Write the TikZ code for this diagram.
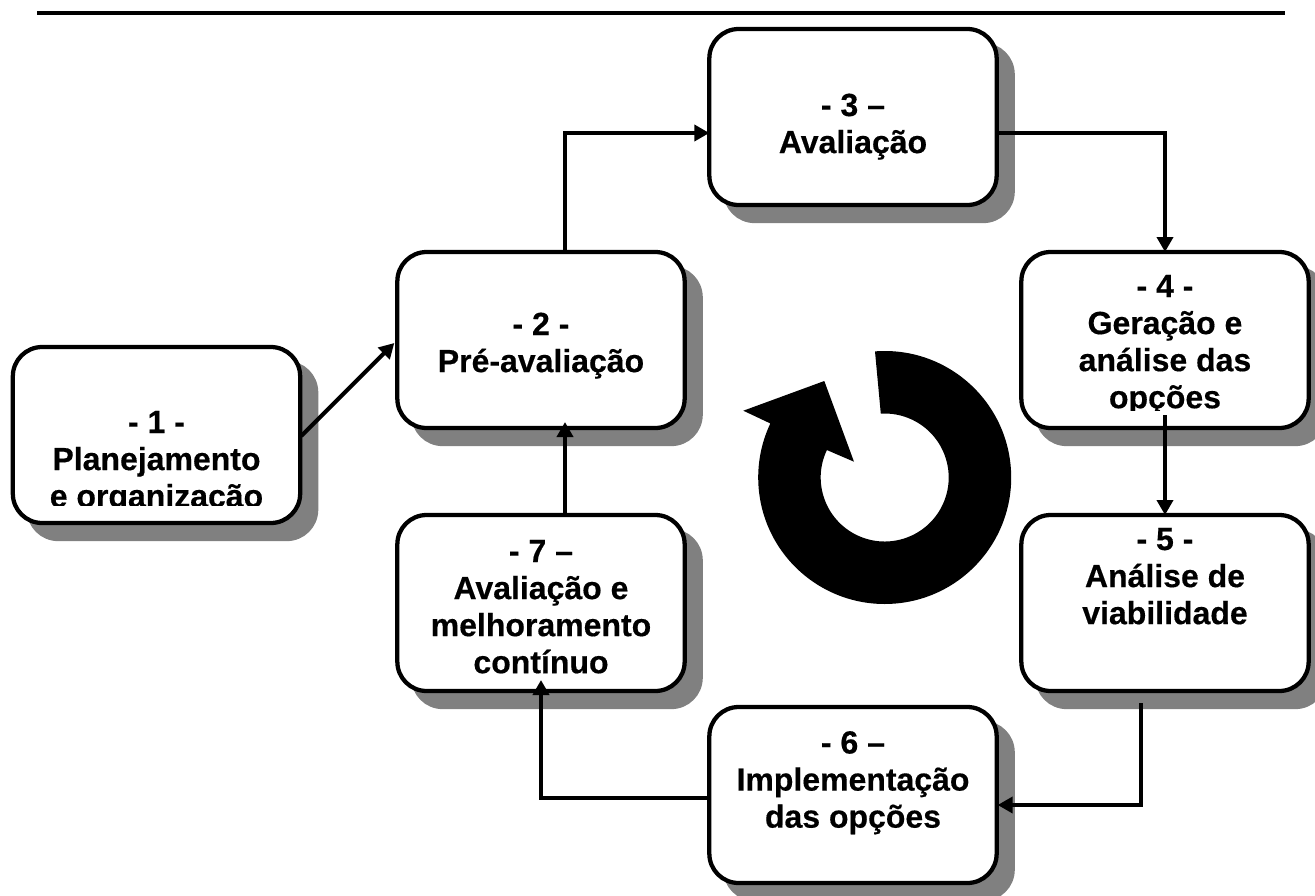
\documentclass[tikz,border=0pt]{standalone}
\usepackage{fontspec}
\setmainfont[BoldFeatures={FakeBold=0.4}]{Liberation Sans}
\usetikzlibrary{arrows.meta,calc,shadows}
\definecolor{shadowgray}{HTML}{808080}
\newcommand{\firstline}{\rule{0pt}{18pt}}
\tikzset{
  stepbox/.style={rectangle,rounded corners=22pt,draw=black,line width=3.2pt,fill=white,outer sep=0pt,inner sep=0pt,
    minimum width=215.5pt,minimum height=132pt,
    copy shadow={shadow xshift=12pt,shadow yshift=-12pt,draw=shadowgray,fill=shadowgray}},
  steptext/.style={anchor=north,inner sep=0pt,outer sep=0pt,align=center,text=black,
    font=\fontsize{24pt}{27.8pt}\selectfont\bfseries},
  conn/.style={draw=black,line width=3pt,-{Triangle[length=11.25pt,width=12pt]}},
}
\begin{document}
\begin{tikzpicture}[x=0.75pt,y=-0.75pt]
\useasboundingbox (0,0) rectangle (1315,896);
\coordinate (ruleL) at (37,13);
\coordinate (ruleR) at (1285,13);
\draw[line width=3.6pt] (ruleL) -- (ruleR);
% boxes
\node[stepbox] (b1) at (156.5,435) {};
\node[stepbox] (b2) at (541,340) {};
\node[stepbox] (b3) at (853,117) {};
\node[stepbox] (b4) at (1165,340) {};
\node[stepbox] (b5) at (1165,603) {};
\node[stepbox] (b6) at (853,795) {};
\node[stepbox] (b7) at (541,603) {};
% texts
\begin{scope}
\clip (0,0) rectangle (1315,505);
\node[steptext] (t1) at (156.5,409) {\firstline- 1 -\\Planejamento\\e organização};
\end{scope}
\node[steptext] (t2) at (541,311) {\firstline- 2 -\\Pré-avaliação};
\node[steptext] (t3) at (853,92) {\firstline- 3 –\\Avaliação};
\begin{scope}
\clip (0,0) rectangle (1315,410);
\node[steptext] (t4) at (1165,273) {\firstline- 4 -\\Geração e\\análise das\\opções};
\end{scope}
\node[steptext] (t5) at (1165,526) {\firstline- 5 -\\Análise de\\viabilidade};
\node[steptext] (t6) at (853,729.5) {\firstline- 6 –\\Implementação\\das opções};
\node[steptext] (t7) at (541,538) {\firstline- 7 –\\Avaliação e\\melhoramento\\contínuo};
% connectors
\draw[conn] ($(b1.east)+(1,1)$) -- ($(b2.west)+(-3,3)$);
\draw[conn] ($(b2.north)+(24,0)$) |- ($(b3.west)+(0,16)$);
\draw[conn] ($(b3.east)+(0,16)$) -| (b4.north);
\draw[conn] ($(b4.south)+(0,-13)$) -- (b5.north);
\draw[conn] ($(b5.south)+(-24,12)$) |- ($(b6.east)+(1,10)$);
\draw[conn] ($(b6.west)+(0,3)$) -| ($(b7.south)+(0,-11)$);
\draw[conn] ($(b7.north)+(24,0)$) -- ($(b2.south)+(24,-6)$);
% circular arrow
\begin{scope}[shift={(884.7,477.5)},x=0.75pt,y=0.75pt]
\fill[black] (94.4:126.5) arc[start angle=94.4,end angle=-205.3,radius=126.5]
  -- (-141.4,66.8) -- (-60.4,96.5) -- (-30.7,15.8)
  -- (154.6:64) arc[start angle=154.6-360,end angle=93.5,radius=64] -- cycle;
\end{scope}
\end{tikzpicture}
\end{document}
